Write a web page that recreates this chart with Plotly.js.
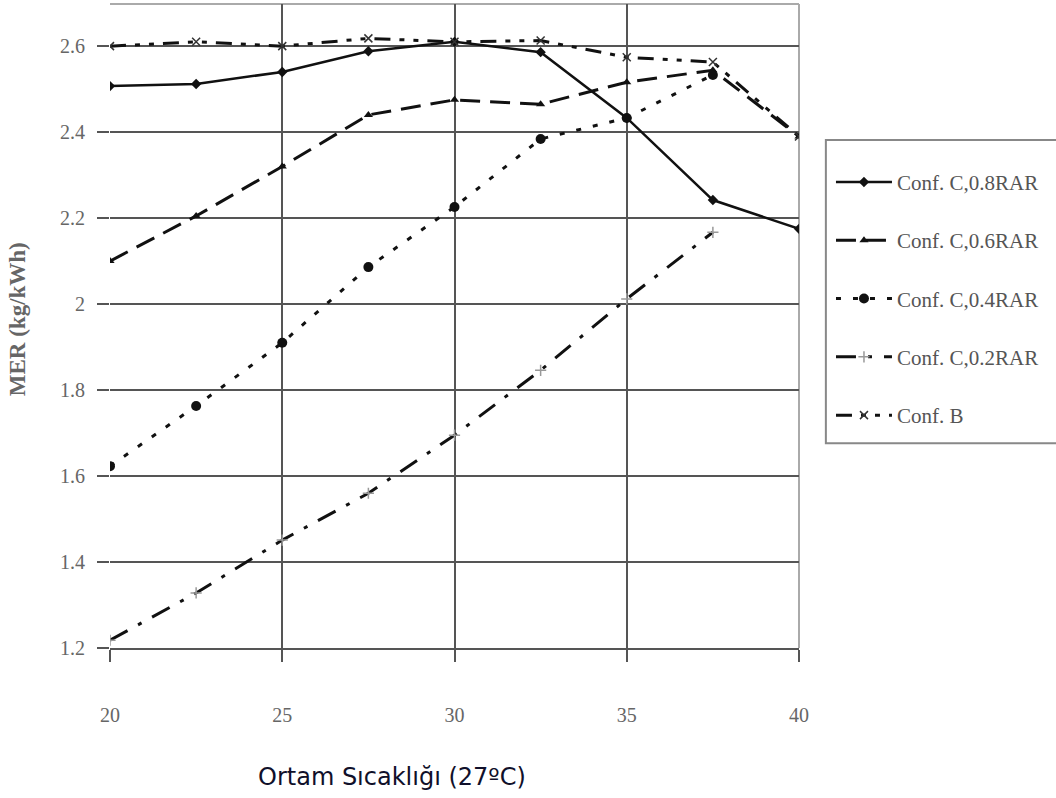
<!DOCTYPE html>
<html>
<head>
<meta charset="utf-8">
<script src="https://cdn.plot.ly/plotly-3.0.1.min.js"></script>
<style>html,body{margin:0;padding:0;background:#fff;}#chart{width:1056px;height:798px;}</style>
</head>
<body>
<div id="chart"></div>
<script>
const temps = [20, 22.5, 25, 27.5, 30, 32.5, 35, 37.5, 40];
const temps02 = [20, 22.5, 25, 27.5, 30, 32.5, 35, 37.5];
const conf08 = [2.507, 2.512, 2.54, 2.588, 2.61, 2.586, 2.433, 2.242, 2.175];
const conf06 = [2.10, 2.205, 2.32, 2.44, 2.475, 2.465, 2.516, 2.544, 2.39];
const temps04 = [20, 22.5, 25, 27.5, 30, 32.5, 35, 37.5];
const conf04 = [1.623, 1.763, 1.91, 2.086, 2.226, 2.384, 2.433, 2.533];
const conf02 = [1.218, 1.328, 1.451, 1.56, 1.695, 1.846, 2.012, 2.167];
const confB = [2.60, 2.61, 2.60, 2.618, 2.61, 2.613, 2.574, 2.563, 2.39];
const names = ["Conf. C,0.8RAR", "Conf. C,0.6RAR", "Conf. C,0.4RAR", "Conf. C,0.2RAR", "Conf. B"];
const xTicks = [20, 25, 30, 35, 40];
const yTicks = [1.2, 1.4, 1.6, 1.8, 2, 2.2, 2.4, 2.6];
const xTitle = "Ortam Sıcaklığı (27ºC)";
const yTitle = "MER (kg/kWh)";

const traces = [
  {x: temps, y: conf08, name: names[0], legendgroup: "a", mode: "lines+markers",
   line: {color: "#111", width: 2.5, dash: "solid"}, marker: {symbol: "diamond", size: 8, color: "#111"}},
  {x: temps, y: conf06, name: names[1], legendgroup: "b", mode: "lines+markers",
   line: {color: "#111", width: 3, dash: "20px,10px"}, marker: {symbol: "triangle-up", size: 8, color: "#111"}},
  {x: temps04, y: conf04, name: names[2], legendgroup: "c", mode: "lines+markers",
   line: {color: "#111", width: 3, dash: "5px,12px"}, marker: {symbol: "circle", size: 10, color: "#111"}},
  {x: temps02, y: conf02, name: names[3], legendgroup: "d", mode: "lines+markers",
   line: {color: "#111", width: 3, dash: "20px,12px,4px,12px"}, marker: {symbol: "cross-thin", size: 8, line: {color: "#999", width: 1.5}, color: "#999"}},
  {x: temps, y: confB, name: names[4], legendgroup: "e", mode: "lines+markers",
   line: {color: "#111", width: 3, dash: "16px,9px,5px,9px,5px,9px"}, marker: {symbol: "x-thin", size: 8, line: {color: "#333", width: 1.5}, color: "#333"}}
];

const layout = {
  width: 1056, height: 798,
  margin: {l: 110, r: 257, t: 4, b: 150},
  paper_bgcolor: "#fff", plot_bgcolor: "#fff",
  showlegend: true,
  legend: {x: 1.0464, xanchor: "left", y: 0.755, yanchor: "top", bgcolor: "rgba(0,0,0,0)",
    borderwidth: 0, tracegroupgap: 28, itemwidth: 56,
    font: {family: "Liberation Serif, serif", size: 21, color: "#555"}},
  xaxis: {
    range: [20, 40], tickvals: xTicks, ticktext: xTicks.map(String),
    showgrid: true, gridcolor: "#555", gridwidth: 2,
    showline: true, linecolor: "#555", linewidth: 2, mirror: false,
    ticks: "outside", ticklen: 12, tickwidth: 2, tickcolor: "#555",
    ticklabelstandoff: 36,
    tickfont: {family: "Liberation Serif, serif", size: 20, color: "#666"},
    zeroline: false
  },
  yaxis: {
    range: [1.2, 2.698], tickvals: yTicks, ticktext: yTicks.map(v => String(v)),
    showgrid: true, gridcolor: "#555", gridwidth: 2,
    showline: false, zeroline: false,
    ticks: "outside", ticklen: 12, tickwidth: 2, tickcolor: "#555",
    ticklabelstandoff: 8,
    tickfont: {family: "Liberation Serif, serif", size: 20, color: "#666"}
  },
  annotations: [
    {text: xTitle, xref: "paper", yref: "paper", x: 0.409, y: -0.2, xanchor: "center", yanchor: "middle",
     showarrow: false, font: {family: "DejaVu Sans, sans-serif", size: 24, color: "#10102a"}},
    {text: "<b>" + yTitle + "</b>", xref: "paper", yref: "paper", x: -0.134, y: 0.51, xanchor: "center", yanchor: "middle",
     textangle: -90, showarrow: false, font: {family: "Liberation Serif, serif", size: 23, color: "#666"}}
  ],
  shapes: [
    {type: "line", xref: "paper", yref: "paper", x0: 0, x1: 1, y0: 1, y1: 1,
     line: {color: "#aaa", width: 2}, layer: "between"},
    {type: "line", xref: "paper", yref: "paper", x0: 1, x1: 1, y0: 0, y1: 1,
     line: {color: "#aaa", width: 2}, layer: "between"},
    {type: "rect", xref: "paper", yref: "paper", x0: 1.039, x1: 1.385, y0: 0.318, y1: 0.789,
     line: {color: "#888", width: 2}}
  ]
};

Plotly.newPlot("chart", traces, layout, {displayModeBar: false, staticPlot: true});
</script>
</body>
</html>
